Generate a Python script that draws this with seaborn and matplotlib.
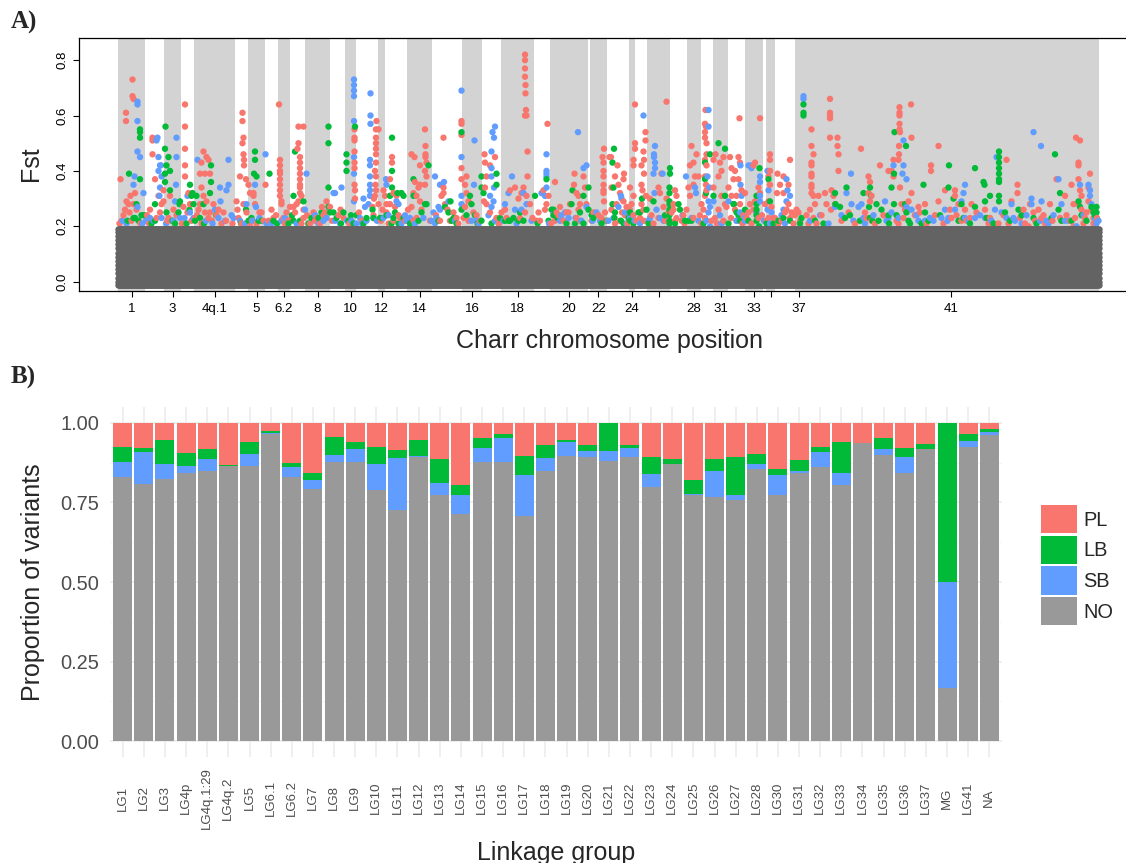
import numpy as np
import pandas as pd
import matplotlib
matplotlib.use("Agg")
import matplotlib.pyplot as plt
from matplotlib.patches import Patch
import seaborn as sns

sns.set_theme(style="white")
plt.rcParams['font.family'] = ['Liberation Sans', 'DejaVu Sans']

# ---------------- Panel A data: genome scan ----------------
chrom_names = ["1", "2", "3", "4p", "4q.1", "4q.2", "5", "6.1", "6.2", "7", "8", "9", "10",
               "11", "12", "13", "14", "15", "16", "17", "18", "19", "20", "21", "22", "23",
               "24", "25", "26", "27", "28", "30", "31", "32", "33", "34", "35", "36", "37", "41"]
chrom_len = [54, 38, 34, 26, 82, 26, 34, 26, 24, 30, 50, 30, 22, 44, 14, 44, 50, 60, 40, 38,
             66, 32, 76, 4, 33, 45, 11, 25, 46, 34, 28, 24, 30, 34, 36, 6, 18, 40, 16, 592]
chrom_shaded = [True, False] * 19 + [True, True]
chrom_tick_labels = {"1", "3", "4q.1", "5", "6.2", "8", "10", "12", "14", "16", "18", "20",
                     "22", "24", "28", "31", "33", "37", "41"}

# Fst levels of the non-outlier (NO) SNP cloud
no_fst_levels = [-0.013, 0.0, 0.015, 0.03, 0.045, 0.06, 0.075, 0.09, 0.105, 0.12,
                 0.135, 0.15, 0.165, 0.178, 0.189]

# Outlier SNPs: (cumulative position in Mb, Fst)
pl_snps = [
    (29, .73), (29, .67), (31, .66), (16, .61), (16, .58), (5, .37), (17, .29), (21, .28), (14, .26),
    (25, .31), (31, .28), (23, .25), (11, .24), (7, .22), (27, .22), (34, .32), (37, .26),
    (69, .52), (69, .51), (69, .46), (74, .37), (81, .31), (87, .28), (84, .25), (77, .23), (64, .26), (91, .33),
    (91, .29), (104, .31), (111, .26), (101, .23), (117, .24), (107, .22),
    (134, .64), (134, .56), (134, .48), (134, .42), (134, .38), (141, .32), (144, .28), (131, .27), (139, .25), (147, .22),
    (171, .47), (177, .45), (167, .43), (181, .44), (164, .39), (174, .39), (184, .39), (167, .34), (171, .31),
    (177, .29), (164, .28), (161, .26), (184, .25), (191, .28), (174, .25), (181, .23), (201, .26), (207, .21),
    (154, .23), (167, .21),
    (249, .61), (249, .58), (251, .52), (249, .50), (251, .46), (252, .44), (252, .42), (256, .37), (261, .35),
    (264, .32), (271, .32), (244, .38), (251, .28), (237, .29), (257, .25), (241, .23), (247, .21),
    (271, .31), (274, .28), (287, .25), (277, .21), (264, .20),
    (295, .35), (311, .23), (307, .26), (301, .22),
    (322, .64), (324, .44), (324, .42), (324, .40), (324, .39), (324, .37), (324, .35), (324, .33), (324, .31),
    (327, .29), (327, .28), (337, .25), (331, .23), (341, .22),
    (361, .56), (371, .56), (361, .50), (359, .48), (364, .45), (364, .43), (364, .41), (364, .39), (364, .37),
    (364, .35), (364, .34), (364, .32), (367, .31), (361, .29), (357, .28), (351, .27), (344, .27), (354, .25),
    (347, .23), (371, .26), (371, .23), (367, .21),
    (391, .25), (384, .21), (397, .23), (411, .24), (404, .21), (417, .29), (424, .27), (414, .25),
    (441, .24), (451, .23),
    (473, .55), (473, .52), (473, .51), (473, .47), (473, .43), (473, .41), (473, .35), (474, .33), (474, .30),
    (517, .58), (516, .55), (521, .55), (516, .52), (516, .50), (516, .48), (516, .46), (516, .43), (514, .40),
    (516, .38), (515, .35), (516, .33), (514, .31), (512, .30), (509, .27), (521, .28), (511, .24),
    (531, .33), (534, .31), (537, .28), (529, .26),
    (548, .45), (548, .43), (544, .37), (551, .32), (557, .31), (544, .28), (554, .27), (537, .25), (564, .23), (551, .22),
    (587, .46), (593, .45), (604, .42), (614, .55), (615, .49), (615, .46), (615, .45), (617, .43), (614, .40),
    (617, .38), (614, .35), (604, .35), (594, .36), (601, .34), (591, .32), (597, .31), (604, .29), (587, .27),
    (607, .26), (597, .23), (591, .22),
    (651, .52), (651, .34), (651, .32), (647, .31), (654, .28), (671, .25), (677, .23), (664, .22), (644, .22),
    (687, .58), (687, .57), (687, .53), (687, .41), (687, .37), (697, .38), (694, .35), (697, .32), (701, .29),
    (694, .27), (691, .23), (701, .22), (711, .25),
    (733, .46), (754, .45), (734, .43), (744, .42), (737, .38), (734, .34), (732, .29), (737, .28), (744, .25), (757, .23),
    (814, .82), (814, .80), (814, .77), (814, .74), (815, .71), (815, .68), (816, .62), (817, .60), (814, .60),
    (819, .47), (819, .38), (811, .34), (807, .32), (794, .34), (784, .33), (801, .30), (817, .31), (824, .28),
    (814, .25), (804, .23), (777, .23), (774, .26),
    (859, .57), (851, .33), (861, .31), (854, .26), (844, .22), (837, .22), (857, .28), (874, .36),
    (913, .39), (912, .35), (917, .32), (921, .31), (924, .28), (921, .26), (917, .23), (924, .22), (931, .38),
    (934, .34), (937, .28), (904, .28), (884, .27), (877, .25), (897, .25), (891, .22), (874, .22),
    (972, .48), (969, .45), (971, .43), (971, .40), (971, .38), (971, .35), (971, .33), (971, .32), (972, .29),
    (974, .25), (967, .23), (951, .25),
    (983, .45), (986, .45), (999, .42), (994, .38), (1012, .39), (1011, .37), (1001, .35), (987, .34), (1004, .32),
    (1011, .29), (997, .28), (987, .26), (1014, .24), (1004, .22), (994, .21), (1017, .27),
    (1034, .64), (1034, .50), (1034, .48), (1031, .44), (1031, .42), (1024, .34), (1031, .31), (1027, .28),
    (1024, .26), (1031, .24),
    (1055, .54), (1055, .51), (1051, .47), (1052, .44), (1047, .42), (1052, .39), (1047, .35), (1049, .33),
    (1056, .31), (1047, .28), (1051, .26), (1044, .23), (1052, .22), (1064, .30),
    (1097, .65), (1087, .39), (1114, .33), (1117, .31), (1111, .28), (1111, .26), (1117, .23), (1114, .22),
    (1081, .34), (1084, .32), (1097, .30), (1091, .27), (1101, .25), (1081, .23), (1071, .21),
    (1144, .42), (1141, .34), (1144, .31), (1137, .26), (1131, .24), (1127, .22), (1151, .23), (1154, .38), (1151, .35),
    (1175, .62), (1174, .57), (1176, .56), (1174, .54), (1174, .52), (1177, .50), (1177, .46), (1174, .44),
    (1177, .42), (1174, .38), (1176, .35), (1177, .33), (1174, .31), (1167, .28), (1171, .26), (1174, .23),
    (1167, .21), (1161, .38), (1147, .49), (1157, .46), (1151, .43),
    (1195, .46), (1191, .44), (1204, .43), (1211, .45), (1207, .40), (1201, .38), (1191, .34), (1207, .31),
    (1214, .28), (1201, .26), (1194, .23), (1211, .22), (1224, .45), (1227, .41), (1231, .37), (1221, .34),
    (1227, .31), (1217, .27),
    (1243, .59), (1241, .45), (1244, .43), (1234, .40), (1241, .37), (1247, .33), (1237, .31), (1254, .32),
    (1244, .28), (1234, .26), (1251, .24), (1237, .22),
    (1284, .59), (1274, .43), (1271, .42), (1281, .34), (1284, .32), (1274, .29), (1264, .28), (1271, .26),
    (1257, .23), (1281, .23), (1267, .21),
    (1304, .46), (1304, .44), (1304, .40), (1301, .38), (1304, .35), (1301, .29), (1294, .28), (1307, .27),
    (1301, .23), (1297, .22), (1311, .23),
    (1344, .44), (1319, .39), (1331, .38), (1324, .35), (1341, .35), (1318, .32), (1331, .32), (1341, .28),
    (1337, .26), (1347, .25), (1354, .24), (1357, .26), (1344, .23), (1327, .22), (1321, .21),
    (1361, .25), (1364, .22),
    (1424, .66), (1424, .61), (1424, .60), (1424, .59), (1387, .55), (1439, .52), (1439, .49), (1424, .52),
    (1387, .49), (1391, .46), (1387, .43), (1387, .42), (1387, .39), (1387, .38), (1387, .35), (1387, .34),
    (1387, .32), (1391, .31), (1394, .28), (1384, .26), (1391, .23), (1381, .21), (1401, .31), (1414, .32),
    (1417, .28), (1427, .33), (1431, .31), (1434, .28), (1426, .26), (1441, .40), (1441, .46), (1486, .48),
    (1501, .38), (1504, .36), (1501, .32), (1507, .31), (1504, .29), (1494, .25), (1507, .22), (1524, .42),
    (1541, .40), (1547, .40), (1551, .38), (1551, .44), (1563, .63), (1563, .61), (1563, .60), (1563, .57),
    (1563, .55), (1564, .54), (1562, .49), (1562, .46), (1561, .44), (1564, .34), (1567, .28), (1561, .21),
    (1586, .64), (1587, .52), (1587, .32), (1581, .29), (1574, .27), (1574, .26), (1571, .23), (1601, .27),
    (1604, .25), (1614, .28), (1626, .42), (1626, .40), (1641, .49), (1641, .29), (1654, .33), (1664, .26),
    (1667, .23), (1674, .33), (1674, .31), (1681, .28), (1694, .26), (1687, .22), (1707, .28), (1704, .23),
    (1734, .26), (1744, .23), (1761, .21), (1777, .44), (1787, .29), (1799, .35), (1799, .32), (1814, .21),
    (1824, .28), (1841, .26), (1847, .23), (1864, .28), (1877, .37), (1884, .23), (1894, .31), (1907, .35),
    (1911, .28), (1916, .52), (1924, .51), (1921, .43), (1921, .42), (1921, .37), (1924, .33), (1927, .31),
    (1921, .28), (1927, .26), (1934, .23), (1944, .39), (1941, .34), (1941, .29), (1947, .26), (1951, .23),
    (1951, .21), (1911, .20), (1904, .22), (1887, .22), (1854, .21), (1834, .22), (1821, .20),
    # SNPs just above the outlier threshold
    (3, .21), (45, .21), (58, .24), (62, .21), (99, .22), (128, .21), (158, .24), (188, .22), (197, .24),
    (211, .25), (216, .22), (229, .21), (239, .26), (268, .22), (283, .25), (291, .22), (316, .24), (334, .21),
    (378, .24), (394, .22), (408, .27), (428, .22), (445, .26), (463, .21), (482, .25), (488, .22), (526, .22),
    (541, .21), (561, .24), (574, .22), (580, .26), (624, .22), (636, .24), (659, .26), (681, .21), (717, .24),
    (724, .22), (762, .21), (767, .25), (829, .23), (841, .25), (866, .21), (881, .24), (901, .25), (947, .22),
    (961, .24), (979, .22), (1008, .25), (1019, .21), (1037, .22), (1067, .24), (1094, .22), (1107, .25),
    (1133, .21), (1164, .24), (1187, .22), (1198, .21), (1226, .23), (1249, .21), (1261, .25), (1288, .24),
    (1314, .23), (1334, .25), (1351, .21), (1377, .24), (1397, .21), (1407, .24), (1447, .22), (1461, .25),
    (1474, .21), (1497, .23), (1514, .21), (1531, .24), (1557, .22), (1594, .24), (1617, .21), (1634, .24),
    (1651, .21), (1677, .24), (1697, .22), (1717, .25), (1741, .21), (1771, .24), (1781, .21), (1804, .23),
    (1811, .26), (1831, .25), (1851, .24), (1869, .22), (1897, .24), (1914, .23), (1931, .21), (1937, .25),
    (1958, .23),
]

sb_snps = [
    (39, .65), (39, .64), (39, .58), (39, .47), (44, .45), (33, .38), (31, .35), (51, .32), (39, .27), (17, .21), (49, .21),
    (79, .52), (77, .51), (81, .45), (84, .42), (81, .40), (87, .38), (84, .34), (83, .31), (86, .42), (87, .23),
    (71, .22), (64, .23),
    (117, .52), (117, .45), (116, .35), (114, .29), (111, .22), (124, .23),
    (139, .31), (144, .25), (151, .23),
    (159, .44), (221, .44), (204, .34), (221, .35), (217, .33), (205, .29), (201, .23), (214, .22), (227, .24), (194, .26),
    (274, .35), (257, .28), (244, .22), (254, .21),
    (295, .46), (276, .27), (283, .23), (307, .21), (327, .22), (377, .39), (374, .26),
    (401, .21), (431, .32), (417, .23), (434, .22), (447, .34), (434, .32), (444, .21),
    (472, .73), (472, .71), (472, .69), (472, .67), (472, .58), (472, .45), (472, .39), (472, .29), (467, .22), (477, .21),
    (505, .68), (505, .60), (505, .57), (504, .44), (504, .42), (504, .38), (504, .35), (504, .33), (504, .31),
    (501, .28), (491, .30), (494, .27), (484, .23), (511, .23), (497, .22),
    (536, .37), (537, .35), (531, .23), (561, .28), (557, .29), (567, .21), (584, .23), (594, .21), (577, .22),
    (634, .38), (644, .35), (652, .36), (641, .27), (631, .25), (644, .26), (637, .23), (661, .29), (634, .21),
    (687, .69), (687, .45), (687, .31), (713, .51), (712, .35), (687, .28), (707, .22), (721, .21),
    (754, .56), (749, .54), (752, .52), (747, .47), (747, .41), (747, .38), (752, .34), (744, .31), (751, .29),
    (747, .27), (741, .24), (754, .22),
    (788, .38), (811, .32), (817, .28), (807, .26), (774, .28), (781, .32), (794, .26), (771, .22),
    (857, .46), (857, .40), (857, .39), (857, .38), (857, .34), (854, .31), (847, .32),
    (920, .54), (931, .41), (937, .42), (915, .23), (901, .23), (927, .22), (884, .22), (894, .25), (871, .25),
    (937, .27), (957, .25), (964, .22),
    (1006, .31), (1007, .30), (1001, .27), (1014, .25), (991, .23), (1024, .23), (1033, .22),
    (1051, .60), (1074, .49), (1072, .46), (1072, .45), (1074, .43), (1074, .41), (1071, .39), (1073, .32),
    (1064, .23), (1061, .22), (1089, .39), (1077, .26), (1084, .23),
    (1136, .38), (1154, .34), (1156, .32), (1147, .23),
    (1181, .62), (1181, .56), (1179, .38), (1183, .34), (1181, .29), (1184, .27), (1181, .25), (1177, .22), (1184, .20),
    (1191, .29), (1204, .24), (1221, .29), (1244, .25),
    (1245, .42), (1245, .35), (1247, .31), (1244, .22), (1254, .23), (1261, .42),
    (1267, .42), (1267, .41), (1284, .38), (1284, .36), (1284, .31), (1284, .29), (1277, .25), (1254, .22),
    (1299, .40), (1301, .33), (1299, .26), (1307, .25), (1304, .21),
    (1337, .37), (1339, .33), (1344, .31), (1337, .29), (1331, .26), (1334, .21),
    (1371, .67), (1371, .66),
    (1434, .27), (1457, .32), (1466, .39), (1467, .28), (1481, .27), (1487, .28), (1491, .23), (1494, .21),
    (1551, .42), (1571, .51), (1571, .42), (1569, .39), (1577, .37), (1577, .27), (1541, .23), (1534, .29),
    (1547, .25), (1561, .23), (1587, .26), (1601, .22), (1614, .22), (1624, .23), (1647, .23), (1659, .22),
    (1654, .26), (1674, .26), (1687, .29), (1694, .35), (1691, .32), (1694, .23), (1714, .23), (1734, .23),
    (1754, .26), (1757, .45), (1767, .25), (1777, .23), (1787, .28), (1794, .22), (1807, .21), (1827, .30),
    (1827, .28), (1844, .22), (1847, .29), (1861, .21), (1871, .24), (1881, .37), (1887, .28), (1894, .22),
    (1917, .20), (1924, .35), (1941, .35), (1944, .33), (1944, .31), (1947, .28), (1954, .23), (1957, .21),
    (1831, .54), (1846, .49),
    # SNPs just above the outlier threshold
    (9, .22), (56, .22), (96, .21), (133, .23), (176, .22), (189, .21), (231, .23), (269, .22), (297, .21),
    (334, .23), (357, .21), (394, .24), (411, .22), (458, .22), (488, .21), (518, .22), (541, .24), (574, .24),
    (611, .23), (627, .22), (674, .22), (717, .22), (761, .21), (797, .21), (827, .22), (862, .21), (887, .24),
    (949, .22), (981, .22), (1017, .21), (1044, .21), (1091, .22), (1129, .24), (1161, .22), (1207, .21),
    (1237, .22), (1292, .22), (1327, .24), (1384, .22), (1404, .24), (1421, .21), (1447, .24), (1471, .22),
    (1511, .24), (1537, .22), (1597, .24), (1631, .22), (1661, .23), (1701, .22), (1724, .24), (1747, .22),
    (1791, .23), (1817, .24), (1857, .22), (1901, .22), (1931, .24), (1961, .22),
]

lb_snps = [
    (44, .55), (44, .54), (44, .52), (44, .37), (22, .39), (37, .28), (34, .23), (41, .22), (47, .24), (31, .23),
    (95, .56), (94, .48), (101, .45), (94, .39), (94, .36), (104, .33), (74, .28), (74, .22), (97, .25),
    (104, .40), (97, .42), (124, .29), (123, .28), (121, .25), (114, .21),
    (144, .35), (149, .32), (147, .31), (143, .26), (151, .28),
    (186, .42), (186, .36), (184, .32), (157, .31), (164, .23), (154, .22), (171, .28),
    (274, .47), (274, .44), (272, .39), (277, .38), (256, .26), (267, .23), (261, .22),
    (303, .39), (281, .22), (311, .22), (341, .21),
    (354, .47), (371, .29), (351, .31), (364, .22), (351, .22),
    (421, .56), (421, .50), (421, .34), (421, .27), (424, .25), (437, .23), (407, .25), (431, .25), (387, .23),
    (457, .46), (457, .43), (457, .40), (461, .22), (451, .25),
    (474, .56), (471, .21), (477, .24), (509, .26), (511, .23), (497, .23), (524, .23),
    (548, .52), (548, .40), (548, .34), (544, .31), (537, .24),
    (567, .32), (571, .31), (559, .32), (554, .25), (551, .23), (547, .21), (571, .23),
    (591, .37), (591, .31), (621, .42), (607, .25), (614, .28),
    (665, .29), (654, .27), (661, .25), (671, .23), (667, .22), (617, .28),
    (687, .54), (687, .26), (704, .31), (707, .28), (697, .24), (714, .24), (727, .22),
    (727, .38), (727, .34), (757, .39), (757, .35), (731, .32), (747, .21),
    (804, .25), (834, .31), (774, .22), (784, .22), (801, .22), (791, .23),
    (857, .37), (867, .26), (871, .24),
    (909, .33), (907, .28), (941, .34), (931, .31), (924, .25), (871, .26), (897, .21), (931, .21),
    (992, .48), (989, .43), (941, .26), (951, .23), (967, .21), (991, .34),
    (989, .28), (994, .25), (993, .23), (1006, .22), (1021, .23),
    (1024, .25), (1041, .25), (1024, .22),
    (1048, .30), (1057, .26), (1071, .29), (1044, .25),
    (1104, .41), (1104, .39), (1103, .34), (1103, .32), (1103, .29), (1103, .28), (1103, .26), (1103, .24),
    (1103, .22), (1103, .21), (1121, .28),
    (1124, .26), (1134, .22), (1147, .22),
    (1184, .46), (1174, .43), (1174, .37), (1176, .32), (1191, .31),
    (1201, .50), (1214, .48), (1214, .31), (1232, .28), (1237, .25), (1244, .22),
    (1241, .24), (1231, .28), (1254, .26),
    (1283, .41), (1277, .31), (1277, .28), (1277, .26), (1277, .24), (1277, .22), (1282, .20),
    (1301, .37), (1304, .29), (1297, .21), (1321, .22), (1344, .22),
    (1371, .64), (1371, .61), (1371, .60), (1364, .21), (1367, .23),
    (1434, .32), (1435, .28), (1444, .27), (1457, .34), (1454, .23), (1491, .32), (1504, .34), (1506, .31),
    (1502, .27), (1504, .23), (1517, .28), (1509, .22), (1527, .26), (1541, .24), (1542, .21), (1553, .54),
    (1552, .39), (1576, .49), (1547, .34), (1552, .28), (1574, .28), (1577, .25), (1581, .22), (1611, .35),
    (1614, .25), (1607, .21), (1662, .42), (1661, .34), (1671, .30), (1687, .28), (1691, .23), (1714, .41),
    (1714, .27), (1731, .36), (1733, .35), (1734, .29), (1744, .31), (1751, .21), (1762, .47), (1762, .45),
    (1762, .43), (1762, .41), (1762, .39), (1762, .37), (1762, .36), (1762, .31), (1762, .29), (1774, .25),
    (1801, .26), (1831, .23), (1874, .46), (1881, .26), (1884, .32), (1887, .22), (1921, .29), (1924, .27),
    (1927, .24), (1947, .27), (1951, .25), (1957, .27), (1957, .25),
    # SNPs just above the outlier threshold
    (19, .22), (52, .24), (67, .21), (109, .22), (137, .21), (172, .21), (196, .24), (246, .21), (287, .22),
    (318, .21), (348, .24), (381, .21), (401, .23), (446, .21), (466, .24), (491, .21), (527, .23), (561, .21),
    (584, .21), (601, .22), (641, .22), (677, .21), (719, .21), (764, .23), (781, .22), (811, .22), (839, .21),
    (861, .22), (879, .23), (914, .21), (947, .24), (977, .22), (1011, .21), (1031, .21), (1061, .21),
    (1094, .24), (1114, .21), (1141, .22), (1171, .21), (1221, .21), (1261, .22), (1311, .21), (1331, .23),
    (1394, .22), (1411, .21), (1464, .24), (1484, .22), (1521, .22), (1557, .24), (1584, .21), (1621, .22),
    (1644, .24), (1681, .22), (1704, .21), (1737, .23), (1784, .22), (1807, .24), (1837, .21), (1867, .23),
    (1907, .22), (1937, .22), (1954, .24),
]

# ---------------- Panel B data: proportions per linkage group ----------------
lg_names = ["LG1", "LG2", "LG3", "LG4p", "LG4q.1:29", "LG4q.2", "LG5", "LG6.1", "LG6.2", "LG7",
            "LG8", "LG9", "LG10", "LG11", "LG12", "LG13", "LG14", "LG15", "LG16", "LG17", "LG18",
            "LG19", "LG20", "LG21", "LG22", "LG23", "LG24", "LG25", "LG26", "LG27", "LG28", "LG30",
            "LG31", "LG32", "LG33", "LG34", "LG35", "LG36", "LG37", "MG", "LG41", "NA"]
prop_no = [.830, .809, .824, .842, .849, .863, .866, .964, .830, .792, .878, .878, .790, .727,
           .894, .773, .715, .878, .878, .708, .850, .897, .894, .881, .894, .799, .872, .772,
           .766, .759, .856, .774, .841, .860, .804, .937, .898, .843, .919, .167, .925, .963]
prop_sb = [.048, .101, .048, .024, .039, .003, .037, .003, .032, .029, .021, .041, .082, .164,
           .001, .039, .059, .044, .073, .129, .041, .044, .019, .032, .028, .041, .000, .005,
           .084, .015, .016, .063, .009, .047, .039, .000, .021, .051, .000, .333, .019, .007]
prop_lb = [.047, .012, .075, .040, .031, .003, .038, .007, .013, .022, .057, .022, .053, .025,
           .052, .076, .030, .032, .015, .060, .041, .006, .019, .087, .010, .054, .016, .044,
           .038, .120, .031, .019, .034, .018, .098, .000, .035, .028, .016, .500, .022, .012]
prop_pl = [.075, .078, .053, .094, .081, .131, .059, .026, .125, .157, .044, .059, .075, .084,
           .053, .112, .196, .046, .034, .103, .068, .053, .068, .000, .068, .106, .112, .179,
           .112, .106, .097, .144, .116, .075, .059, .063, .046, .078, .065, .000, .034, .018]

colors = {"PL": "#F8766D", "LB": "#00BA38", "SB": "#619CFF", "NO": "#999999"}
scan_gray = "#636363"
band_gray = "#D3D3D3"

# ---------------- Figure layout ----------------
W, H = 1126, 863
fig = plt.figure(figsize=(W / 100, H / 100), dpi=100)


def box(left, top, right, bottom):
    return [left / W, 1 - bottom / H, (right - left) / W, (bottom - top) / H]


axA = fig.add_axes(box(79, 37.7, 1126, 291))
axB = fig.add_axes(box(110, 407, 1002, 757))

# ---------------- Panel A ----------------
chrom_len_arr = np.array(chrom_len, dtype=float)
starts = np.concatenate([[0.0], np.cumsum(chrom_len_arr)[:-1]])
ends = starts + chrom_len_arr
centers = (starts + ends) / 2

for s, e, shaded in zip(starts, ends, chrom_shaded):
    if shaded:
        axA.axvspan(s, e, color=band_gray, lw=0, zorder=0)

snps = pd.concat([
    pd.DataFrame(pl_snps, columns=["pos", "fst"]).assign(group="PL"),
    pd.DataFrame(sb_snps, columns=["pos", "fst"]).assign(group="SB"),
    pd.DataFrame(lb_snps, columns=["pos", "fst"]).assign(group="LB"),
]).sort_values("pos", kind="stable")
sns.scatterplot(data=snps, x="pos", y="fst", hue="group", palette=colors, s=21, linewidth=0,
                legend=False, ax=axA, zorder=2)

no_pos = np.concatenate([np.arange(s, e, 1.5) for s, e in zip(starts, ends)])
gp, gf = np.meshgrid(no_pos, no_fst_levels)
no_df = pd.DataFrame({"pos": gp.ravel(), "fst": gf.ravel()})
sns.scatterplot(data=no_df, x="pos", y="fst", color=scan_gray, s=21, linewidth=0,
                ax=axA, zorder=3, rasterized=True)

axA.set_xlim(-78, 2016)
axA.set_ylim(-0.0336, 0.881)
axA.set_xlabel("")
axA.set_ylabel("")
for side in ["left", "top", "bottom"]:
    axA.spines[side].set_visible(True)
    axA.spines[side].set_color("black")
    axA.spines[side].set_linewidth(0.9)
axA.spines["right"].set_visible(False)

tick_idx = [i for i, sh in enumerate(chrom_shaded) if sh]
axA.set_xticks(centers[tick_idx])
axA.set_xticklabels([chrom_names[i] if chrom_names[i] in chrom_tick_labels else "" for i in tick_idx])
axA.set_yticks([0.0, 0.2, 0.4, 0.6, 0.8])
axA.set_yticklabels(["0.0", "0.2", "0.4", "0.6", "0.8"], rotation=90, va="center")
axA.tick_params(axis="x", bottom=True, length=4.5, width=0.8, color="black", pad=4,
                labelsize=9.5, labelcolor="black")
axA.tick_params(axis="y", left=True, length=4.5, width=0.8, color="black", pad=3,
                labelsize=9.5, labelcolor="black")

fig.text(31.5 / W, 1 - 164 / H, "Fst", rotation=90, ha="center", va="center", fontsize=18)
fig.text(609 / W, 1 - 348 / H, "Charr chromosome position", ha="center", va="baseline", fontsize=18)
fig.text(11 / W, 1 - 11 / H, "A)", ha="left", va="top", fontsize=18,
         family=["Liberation Serif", "DejaVu Serif"], fontweight="bold")
fig.text(11 / W, 1 - 366 / H, "B)", ha="left", va="top", fontsize=18,
         family=["Liberation Serif", "DejaVu Serif"], fontweight="bold")

# ---------------- Panel B ----------------
p_no = np.array(prop_no)
top_sb = p_no + np.array(prop_sb)
top_lb = top_sb + np.array(prop_lb)
top_pl = top_lb + np.array(prop_pl)

for vals, key in [(top_pl, "PL"), (top_lb, "LB"), (top_sb, "SB"), (p_no, "NO")]:
    sns.barplot(x=lg_names, y=vals, order=lg_names, color=colors[key], saturation=1,
                width=0.9, errorbar=None, ax=axB, zorder=2, linewidth=0)

axB.set_xlim(-0.6, len(lg_names) - 0.4)
axB.set_ylim(-0.05, 1.05)
axB.set_axisbelow(True)
axB.set_yticks([0, 0.25, 0.5, 0.75, 1.0])
axB.set_yticklabels(["0.00", "0.25", "0.50", "0.75", "1.00"])
axB.set_yticks([0.125, 0.375, 0.625, 0.875], minor=True)
axB.set_xticks(range(len(lg_names)))
axB.set_xticklabels(lg_names, rotation=90)
for lab in axB.get_xticklabels():
    lab.set_va("center")
    lab.set_ha("center")
axB.grid(which="major", axis="both", color="#EBEBEB", lw=1.1)
axB.grid(which="minor", axis="y", color="#F2F2F2", lw=0.6)
for side in axB.spines.values():
    side.set_visible(False)
axB.tick_params(axis="y", which="both", length=0, pad=8, labelsize=14.4, labelcolor="#4D4D4D")
axB.tick_params(axis="x", which="both", length=0, pad=29.5, labelsize=9.5, labelcolor="#4D4D4D")
axB.set_xlabel("")
axB.set_ylabel("")

fig.text(33 / W, 1 - 582 / H, "Proportion of variants", rotation=90, ha="center", va="center", fontsize=18)
fig.text(556 / W, 1 - 860 / H, "Linkage group", ha="center", va="baseline", fontsize=18)

handles = [Patch(facecolor=colors[k], edgecolor="none", label=k) for k in ["PL", "LB", "SB", "NO"]]
axB.legend(handles=handles, loc="upper left", bbox_to_anchor=(1041 / W, 1 - 505 / H),
           bbox_transform=fig.transFigure, frameon=False, fontsize=14.4,
           handlelength=1.8, handleheight=1.8, handletextpad=0.3, labelspacing=0.12,
           borderpad=0, borderaxespad=0)

fig.savefig("out.png", dpi=100)
